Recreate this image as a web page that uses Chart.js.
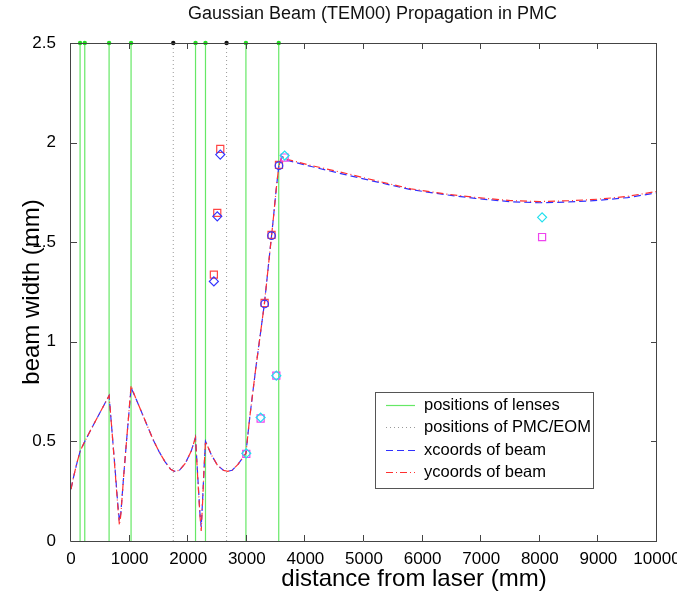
<!DOCTYPE html>
<html>
<head>
<meta charset="utf-8">
<script src="https://cdn.jsdelivr.net/npm/chart.js@4.4.1/dist/chart.umd.min.js"></script>
<style>
  html, body { margin: 0; padding: 0; background: #fff; }
  canvas { display: block; }
</style>
</head>
<body>
<canvas id="chart" width="677" height="592"></canvas>
<script>
// positions along the optical path (mm)
const lensPositions = [155, 235, 650, 1025, 2125, 2295, 2985, 3545];
const pmcPositions = [1745, 2655];

// computed beam width along z
const beamZ = [0, 50, 100, 155, 235, 350, 450, 550, 650, 700, 750, 800, 826, 850, 900, 950, 1025,
  1100, 1200, 1300, 1400, 1500, 1600, 1700, 1766, 1850, 1950, 2050, 2125, 2160, 2200, 2222, 2245,
  2270, 2295, 2400, 2500, 2600, 2677, 2750, 2850, 2985, 3050, 3100, 3150, 3200, 3250, 3300, 3350,
  3400, 3450, 3500, 3545, 3600, 3700, 4100, 4700, 5300, 5800, 6400, 6900, 7500, 8000, 8500, 9000,
  9500, 10000];
const beamX = [0.26, 0.33, 0.39, 0.45, 0.50, 0.565, 0.62, 0.675, 0.73, 0.55, 0.37, 0.18, 0.10, 0.14, 0.33, 0.51, 0.77,
  0.72, 0.65, 0.58, 0.51, 0.45, 0.40, 0.36, 0.35, 0.355, 0.39, 0.45, 0.52, 0.34, 0.14, 0.07, 0.20,
  0.36, 0.50, 0.43, 0.38, 0.355, 0.35, 0.355, 0.385, 0.44, 0.62, 0.74, 0.86, 0.97, 1.08, 1.19, 1.33,
  1.47, 1.61, 1.76, 1.88, 1.93, 1.91, 1.88, 1.838, 1.797, 1.764, 1.738, 1.72, 1.703, 1.698, 1.702, 1.71,
  1.724, 1.748];
const beamY = [0.26, 0.33, 0.39, 0.45, 0.50, 0.565, 0.62, 0.675, 0.73, 0.55, 0.36, 0.17, 0.08, 0.13, 0.33, 0.51, 0.78,
  0.72, 0.65, 0.58, 0.51, 0.45, 0.40, 0.36, 0.35, 0.355, 0.39, 0.45, 0.52, 0.33, 0.13, 0.05, 0.19,
  0.36, 0.50, 0.43, 0.38, 0.355, 0.35, 0.355, 0.385, 0.44, 0.62, 0.74, 0.86, 0.97, 1.08, 1.19, 1.33,
  1.47, 1.61, 1.76, 1.88, 1.93, 1.915, 1.885, 1.845, 1.802, 1.768, 1.742, 1.725, 1.709, 1.704, 1.708, 1.716,
  1.73, 1.755];

// measured points
const xDiamondZ = [2438, 2496, 2547];
const xDiamondW = [1.303, 1.63, 1.94];
const xCircleZ = [3304, 3422, 3549];
const xCircleW = [1.19, 1.533, 1.884];
const ySquareZ = [2438, 2496, 2547, 3304, 3422, 3549];
const ySquareW = [1.337, 1.647, 1.968, 1.195, 1.537, 1.888];
const cyanZ = [2991, 3236, 3504, 3646, 8039];
const cyanW = [0.44, 0.62, 0.83, 1.935, 1.625];
const magentaZ = [2991, 3236, 3504, 3646, 8039];
const magentaW = [0.437, 0.615, 0.83, 1.925, 1.526];

const xTicks = [0, 1000, 2000, 3000, 4000, 5000, 6000, 7000, 8000, 9000, 10000];
const yTicks = [0, 0.5, 1, 1.5, 2, 2.5];

const FONT = "'Liberation Sans', Arial, Helvetica, sans-serif";
Chart.defaults.font.family = FONT;
Chart.defaults.color = '#000';

const pts = (zs, ws) => zs.map((z, i) => ({ x: z, y: ws[i] }));
const vlines = xs => xs.flatMap(x => [{ x: x, y: 0 }, { x: x, y: 2.5 }, { x: x, y: null }]);
const topDot = c => (c.raw && c.raw.y === 2.5 ? 2.2 : 0);

const marker = (label, data, style, color, r) => ({
  label: label, data: data, showLine: false, pointStyle: style, pointRadius: r,
  pointBorderColor: color, pointBackgroundColor: 'rgba(0,0,0,0)', pointBorderWidth: 1.2, clip: false
});

const datasets = [
  marker('cyan', pts(cyanZ, cyanW), 'rectRot', '#22e0ee', 4.5),
  marker('magenta', pts(magentaZ, magentaW), 'rect', '#ee44ee', 5),
  marker('xd', pts(xDiamondZ, xDiamondW), 'rectRot', '#3333ff', 4.5),
  marker('xc', pts(xCircleZ, xCircleW), 'circle', '#3333ff', 3.8),
  marker('ys', pts(ySquareZ, ySquareW), 'rect', '#ff4444', 5),
  {
    label: 'ycoords of beam', data: pts(beamZ, beamY), showLine: true, pointRadius: 0,
    borderColor: '#ff3030', borderWidth: 1.2, borderDash: [7, 3, 1, 3], tension: 0
  },
  {
    label: 'xcoords of beam', data: pts(beamZ, beamX), showLine: true, pointRadius: 0,
    borderColor: '#3030ff', borderWidth: 1.2, borderDash: [7, 4], tension: 0
  },
  {
    label: 'positions of PMC/EOM', data: vlines(pmcPositions), showLine: true, spanGaps: false,
    borderColor: '#999999', borderWidth: 1, borderDash: [1, 3],
    pointRadius: topDot, pointBackgroundColor: '#111', pointBorderWidth: 0, clip: false
  },
  {
    label: 'positions of lenses', data: vlines(lensPositions), showLine: true, spanGaps: false,
    borderColor: '#66e866', borderWidth: 1.2,
    pointRadius: topDot, pointBackgroundColor: '#22dd22', pointBorderWidth: 0, clip: false
  }
];

const legendLabels = ['positions of lenses', 'positions of PMC/EOM', 'xcoords of beam', 'ycoords of beam'];

// matlab style box with inward ticks, boxed legend and offset x label
const framePlugin = {
  id: 'frame',
  afterLayout(chart) {
    const t = chart.titleBlock;
    if (t) { t.left += 44; t.right += 44; }
  },
  afterDraw(chart) {
    const { ctx, chartArea: a, scales } = chart;
    ctx.save();
    ctx.strokeStyle = '#444';
    ctx.lineWidth = 1;
    ctx.beginPath();
    ctx.rect(a.left - 0.5, a.top + 0.5, a.right - a.left, a.bottom - a.top);
    xTicks.forEach(v => {
      const px = Math.round(scales.x.getPixelForValue(v)) - 0.5;
      ctx.moveTo(px, a.bottom); ctx.lineTo(px, a.bottom - 6);
      ctx.moveTo(px, a.top); ctx.lineTo(px, a.top + 6);
    });
    yTicks.forEach(v => {
      const py = Math.round(scales.y.getPixelForValue(v)) + 0.5;
      ctx.moveTo(a.left, py); ctx.lineTo(a.left + 6, py);
      ctx.moveTo(a.right, py); ctx.lineTo(a.right - 6, py);
    });
    ctx.stroke();

    // legend
    const bx = 375, by = 392, bw = 218, bh = 96;
    ctx.fillStyle = '#fff';
    ctx.fillRect(bx, by, bw, bh);
    ctx.strokeStyle = '#555';
    ctx.strokeRect(bx + 0.5, by + 0.5, bw, bh);
    ctx.font = '16.5px ' + FONT;
    ctx.textBaseline = 'middle';
    ctx.textAlign = 'left';
    legendLabels.forEach((lab, i) => {
      const ds = chart.data.datasets.find(d => d.label === lab);
      const y = Math.round(405 + i * 22.3) + 0.5;
      ctx.strokeStyle = ds.borderColor;
      ctx.lineWidth = ds.borderWidth;
      ctx.setLineDash(ds.borderDash || []);
      ctx.beginPath();
      ctx.moveTo(386, y); ctx.lineTo(415, y);
      ctx.stroke();
      ctx.setLineDash([]);
      ctx.fillStyle = '#000';
      ctx.fillText(lab, 424, y);
    });

    ctx.font = '24px ' + FONT;
    ctx.textAlign = 'center';
    ctx.fillStyle = '#000';
    ctx.fillText('distance from laser (mm)', 414, 579);
    ctx.restore();
  }
};

new Chart(document.getElementById('chart'), {
  type: 'scatter',
  data: { datasets: datasets },
  options: {
    responsive: false,
    animation: false,
    devicePixelRatio: 1,
    layout: { padding: { left: 0, right: 20, top: 0, bottom: 0 } },
    plugins: {
      legend: { display: false },
      tooltip: { enabled: false },
      title: {
        display: true,
        text: 'Gaussian Beam (TEM00) Propagation in PMC',
        font: { size: 18, weight: 'normal' },
        color: '#111',
        padding: { top: 3, bottom: 18.4 }
      }
    },
    scales: {
      x: {
        type: 'linear', min: 0, max: 10000,
        afterBuildTicks: s => { s.ticks = xTicks.map(v => ({ value: v })); },
        ticks: { padding: 8, maxRotation: 0, autoSkip: false, font: { size: 17 }, callback: v => String(v) },
        grid: { display: false, drawTicks: false },
        border: { display: false },
        afterFit: s => { s.height = 51; s.paddingLeft = 0; s.paddingRight = 0; }
      },
      y: {
        type: 'linear', min: 0, max: 2.5,
        afterBuildTicks: s => { s.ticks = yTicks.map(v => ({ value: v })); },
        ticks: { padding: 15, font: { size: 17 }, callback: v => String(v) },
        grid: { display: false, drawTicks: false },
        border: { display: false },
        title: { display: true, text: 'beam width (mm)', font: { size: 24 }, padding: { top: 18, bottom: 0 } },
        afterFit: s => { s.width = 71; }
      }
    }
  },
  plugins: [framePlugin]
});
</script>
</body>
</html>
